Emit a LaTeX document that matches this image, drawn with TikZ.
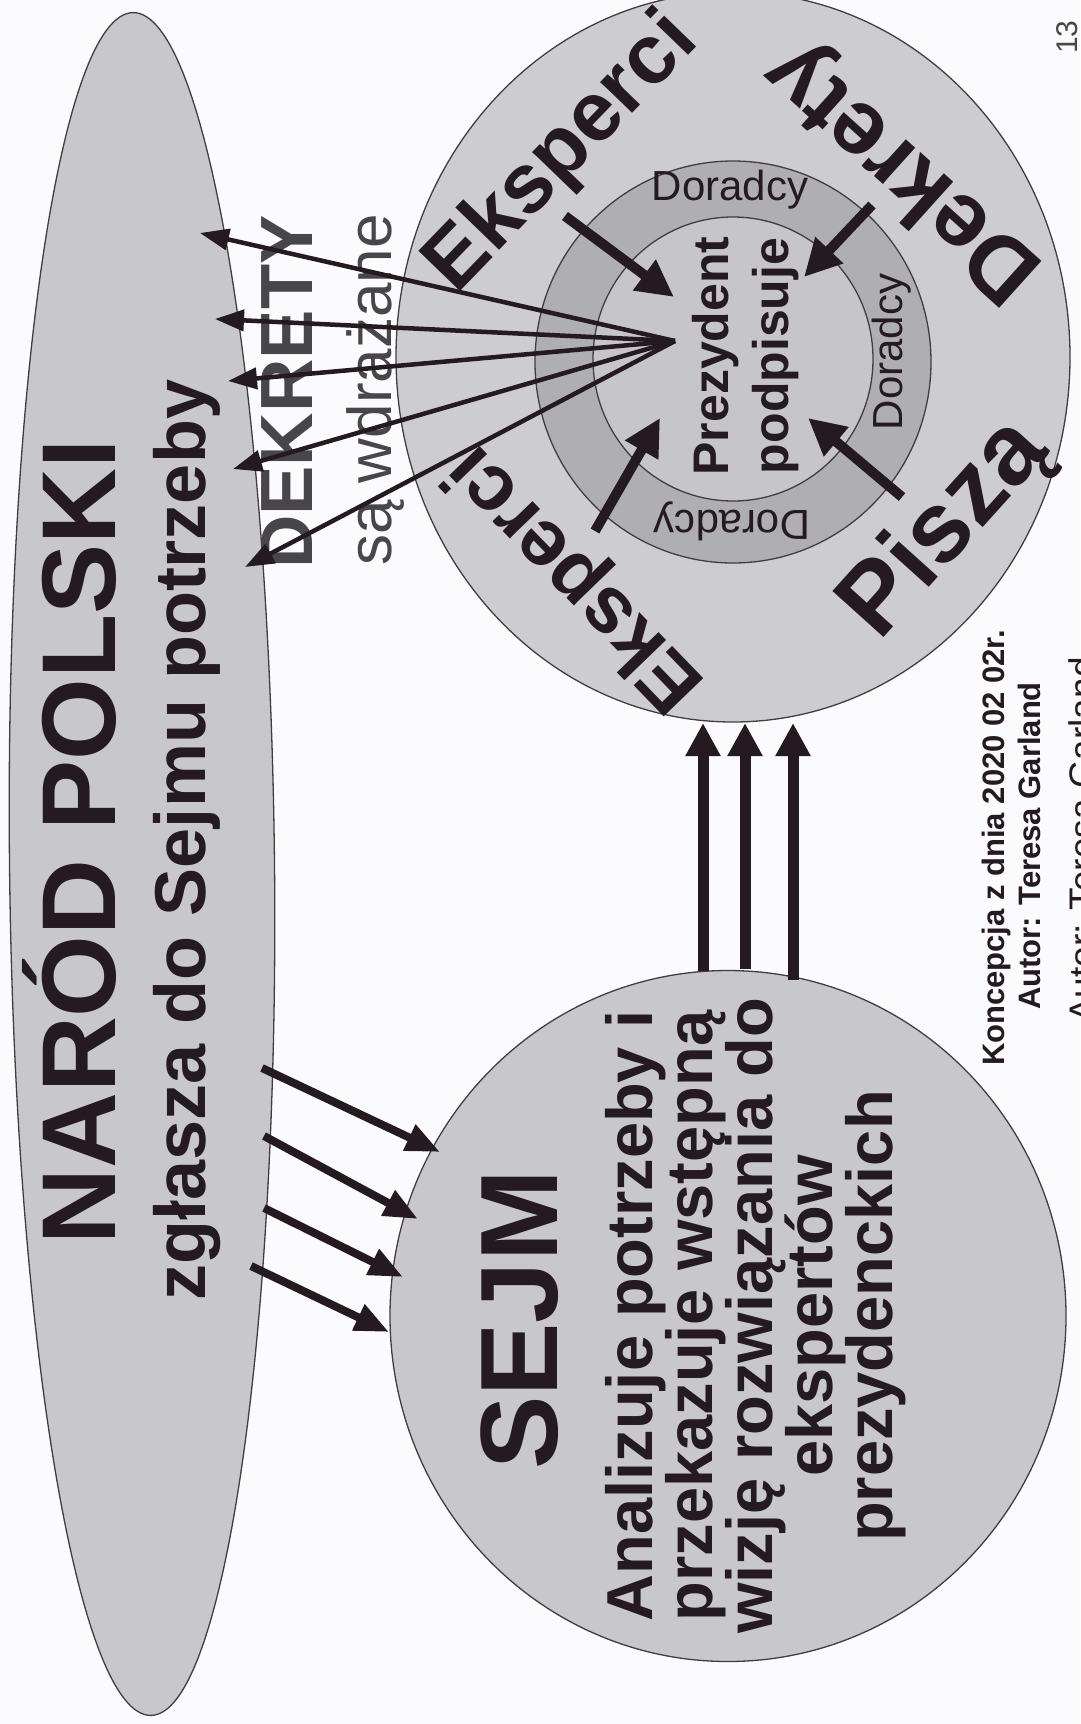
\documentclass[tikz,border=0pt]{standalone}
\usepackage{fontspec}
\setmainfont{Liberation Sans}
\usetikzlibrary{arrows.meta,shapes.geometric}

\definecolor{paper}{RGB}{251,251,253}
\definecolor{blobgray}{RGB}{199,199,204}
\definecolor{outergray}{RGB}{204,204,209}
\definecolor{ringgray}{RGB}{174,174,179}
\definecolor{coregray}{RGB}{197,197,202}
\definecolor{ink}{RGB}{36,26,31}
\definecolor{stamp}{RGB}{72,70,74}

\newcommand{\fsz}[1]{\fontsize{#1}{#1}\selectfont}

\tikzset{
  blob/.style={ellipse, draw=ink!85, line width=1.3pt, fill=#1, inner sep=0pt, outer sep=0pt},
  lbl/.style={inner sep=0pt, text=ink},
  fan/.style={draw=ink, line width=4.5pt, -{Triangle[length=29pt,width=21pt]}},
  push/.style={draw=ink, line width=10pt, -{Triangle[length=37pt,width=36pt]}},
  feed/.style={draw=ink, line width=8pt, -{Triangle[length=34pt,width=27pt]}},
  lift/.style={draw=ink, line width=11pt, -{Triangle[length=33pt,width=33pt]}}
}

\begin{document}
\begin{tikzpicture}[x=1pt,y=-1pt]
\clip (0,0) rectangle (1080,1724);
\fill[paper] (0,0) rectangle (1080,1724);

\node[blob=blobgray, rotate=0.6, minimum width=265pt, minimum height=1703pt] (narod) at (142,864) {};
\node[blob=blobgray, minimum width=676pt, minimum height=691pt] (sejm) at (728,1316) {};
\node[blob=outergray, minimum width=674pt, minimum height=730pt] (outer) at (733,357) {};
\node[blob=ringgray, minimum width=396pt, minimum height=402pt] (ring) at (733,362) {};
\node[blob=coregray, minimum width=280pt, minimum height=284pt] (core) at (733,359) {};

\node[lbl, rotate=90, anchor=base, font=\fsz{105}\bfseries] (narodname) at (115,842) {NARÓD POLSKI};
\node[lbl, rotate=90, anchor=base, font=\fsz{72}\bfseries] (narodtext) at (205,840) {zgłasza do Sejmu potrzeby};
\node[lbl, rotate=90, anchor=base, font=\fsz{74}\bfseries, text=stamp] (dekrety) at (312,392) {DEKRETY};
\node[lbl, rotate=90, anchor=base, font=\fsz{62}, text=stamp] (wdrazane) at (391,390) {są wdrażane};

\node[lbl, rotate=46, font=\fsz{84}\bfseries] (eksp1) at (563,154) {Eksperci};
\node[lbl, rotate=138, font=\fsz{92}\bfseries] (dekr) at (905,170) {Dekrety};
\node[lbl, rotate=48, font=\fsz{100}\bfseries] (pisza) at (946,530) {Piszą};
\node[lbl, rotate=134, font=\fsz{80}\bfseries] (eksp2) at (577,577) {Eksperci};

\node[lbl, font=\fsz{42}] (dor1) at (730,190) {Doradcy};
\node[lbl, rotate=90, font=\fsz{42}] (dor2) at (892,352) {Doradcy};
\node[lbl, rotate=180, font=\fsz{42}] (dor3) at (732,521) {Doradcy};

\node[lbl, rotate=90, anchor=base, font=\fsz{50}\bfseries] (prez) at (728,356) {Prezydent};
\node[lbl, rotate=90, anchor=base, font=\fsz{50}\bfseries] (podp) at (788,356) {podpisuje};

\node[lbl, rotate=90, anchor=base, font=\fsz{110}\bfseries] (sejmname) at (557,1320) {SEJM};
\foreach \t [count=\i] in {Analizuje potrzeby i, przekazuje wstępną, wizję rozwiązania do, ekspertów, prezydenckich}{
\node[lbl, rotate=90, anchor=base, font=\fsz{65}\bfseries] (sejmline\i) at (592+60*\i,1316) {\t};
}

\node[lbl, rotate=90, anchor=base, font=\fsz{31}\bfseries] (note1) at (1004,848) {Koncepcja z dnia 2020 02 02r.};
\node[lbl, rotate=90, anchor=base, font=\fsz{31}\bfseries] (note2) at (1040,846) {Autor: Teresa Garland};
\node[lbl, rotate=90, anchor=base, font=\fsz{37}] (note3) at (1095,840) {Autor: Teresa Garland};
\node[lbl, rotate=90, anchor=base, font=\fsz{30}, text=stamp] (page) at (1077,37) {13};

\coordinate (hub) at (675,341);
\foreach \x/\y [count=\i] in {200/233, 215/319, 228/381, 233/469, 245/567}{
\coordinate (out\i) at (\x,\y);
\draw[fan] (hub) -- (out\i);
}

\foreach \a/\b/\c/\d [count=\i] in {565/216/674/297, 872/205/804/277, 595/531/660/418, 902/497/808/418}{
\coordinate (tail\i) at (\a,\b);
\coordinate (head\i) at (\c,\d);
\draw[push] (tail\i) -- (head\i);
}

\foreach \a/\b/\c/\d [count=\i] in {262/1068/440/1152, 264/1136/418/1219, 264/1208/403/1277, 251/1266/389/1332}{
\coordinate (need\i) at (\a,\b);
\coordinate (sejmin\i) at (\c,\d);
\draw[feed] (need\i) -- (sejmin\i);
}

\foreach \x/\y [count=\i] in {703/971, 745/969, 793/980}{
\coordinate (up\i) at (\x,\y);
\coordinate (upend\i) at (\x,723);
\draw[lift] (up\i) -- (upend\i);
}
\end{tikzpicture}
\end{document}
